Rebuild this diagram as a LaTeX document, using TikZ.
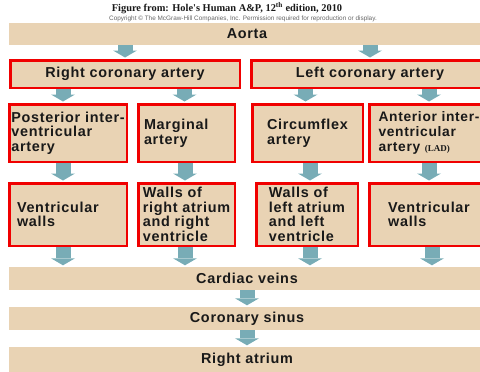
\documentclass[tikz,border=0pt]{standalone}
\usepackage{fontspec}
\setmainfont{Liberation Sans}
\newfontfamily\lblfont{Liberation Sans}[LetterSpace=5]
\newfontfamily\serfont{Liberation Serif}
\usepackage{tikz}
\usetikzlibrary{arrows.meta, positioning}
\definecolor{tanfill}{RGB}{233,211,180}
\definecolor{flowteal}{RGB}{120,172,182}
\definecolor{boxred}{RGB}{240,0,0}

\begin{document}
\begin{tikzpicture}[
	x=1pt, y=-1pt,
	every node/.style={font=\lblfont\bfseries\fontsize{14.4}{14.6}\selectfont, text=black!90},
	bar/.style={rectangle, fill=tanfill, minimum width=476pt, minimum height=23pt, inner sep=0pt},
	artbox/.style={rectangle, draw=boxred, line width=2.5pt, fill=tanfill, align=left, inner sep=2pt},
	flow/.style={draw=flowteal, line width=15pt, -{Triangle[width=24pt, length=7pt, line width=0pt]}, shorten >=1.5pt}
]
\useasboundingbox (0,0) rectangle (480,372);

% Source line
\node[font=\serfont\bfseries\fontsize{10.4}{12}\selectfont] (title) at (227,8) {Figure from: Hole's Human A\&P, 12\textsuperscript{th} edition, 2010};
\node[font=\fontsize{6.4}{7}\selectfont, text=black!60] (copy) at (243,18.5) {Copyright \textcopyright{} The McGraw-Hill Companies, Inc. Permission required for reproduction or display.};

% Bars across the page
\node[bar, minimum height=22pt] (aorta) at (247,34) {Aorta};
\node[bar] (cveins) at (247,278.5) {Cardiac veins};
\node[bar] (csinus) at (247,318.5) {Coronary sinus};
\node[bar, minimum height=25pt] (ratrium) at (247,359.5) {Right atrium};

% Coronary arteries
\node[artbox, minimum width=229.5pt, minimum height=27.5pt] (rca) at (125,74) {Right coronary artery};
\node[artbox, minimum width=237.5pt, minimum height=27.5pt, right=9pt of rca] (lca) {Left coronary artery};

% Branches
\node[artbox, minimum width=117.5pt, minimum height=57.5pt] (pia) at (68,133) {Posterior inter-\\ventricular\\artery};
\node[artbox, minimum width=96.5pt, minimum height=57.5pt, text width=85pt, right=9pt of pia] (marg) {Marginal\\artery};
\node[artbox, minimum width=110.5pt, minimum height=57.5pt, right=15pt of marg] (circ) {Circumflex\\artery};
\node[artbox, minimum width=119.5pt, minimum height=57.5pt, right=4pt of circ, font=\lblfont\bfseries\fontsize{13.8}{14.6}\selectfont] (aia) {Anterior inter-\\ventricular\\artery {\serfont\bfseries\fontsize{9}{10}\selectfont(LAD)}};

% Supplied walls
\node[artbox, minimum width=117.5pt, minimum height=62.5pt, text width=102pt] (vwr) at (68,214.5) {Ventricular\\walls};
\node[artbox, minimum width=96.5pt, minimum height=62.5pt, right=9pt of vwr] (wra) {Walls of\\right atrium\\and right\\ventricle};
\node[artbox, minimum width=101.5pt, minimum height=62.5pt, right=19pt of wra] (wla) {Walls of\\left atrium\\and left\\ventricle};
\node[artbox, minimum width=119.5pt, minimum height=62.5pt, right=9pt of wla] (vwl) {Ventricular\\walls};

% Arrows
\draw[flow] (aorta.south -| rca) -- (rca.north);
\draw[flow] (aorta.south -| lca) -- (lca.north);

\draw[flow] ([xshift=-5pt]rca.south -| pia.north) -- ([xshift=-5pt]pia.north);
\draw[flow] ([xshift=-2pt]rca.south -| marg.north) -- ([xshift=-2pt]marg.north);
\draw[flow] ([xshift=-2pt]lca.south -| circ.north) -- ([xshift=-2pt]circ.north);
\draw[flow] (lca.south -| aia.north) -- (aia.north);

\draw[flow] ([xshift=-5pt]pia.south) -- ([xshift=-5pt]vwr.north);
\draw[flow] ([xshift=-1.5pt]marg.south) -- ([xshift=-1.5pt]wra.north);
\draw[flow] ([xshift=2.5pt]circ.south) -- ([xshift=2.5pt]circ.south |- wla.north);
\draw[flow] (aia.south) -- (vwl.north);

\draw[flow] ([xshift=-5pt]vwr.south) -- ([xshift=-5pt]vwr.south |- cveins.north);
\draw[flow] ([xshift=-1.5pt]wra.south) -- ([xshift=-1.5pt]wra.south |- cveins.north);
\draw[flow] ([xshift=3pt]wla.south) -- ([xshift=3pt]wla.south |- cveins.north);
\draw[flow] ([xshift=3pt]vwl.south) -- ([xshift=3pt]vwl.south |- cveins.north);

\draw[flow] (cveins.south) -- (csinus.north);
\draw[flow] (csinus.south) -- (ratrium.north);

\end{tikzpicture}
\end{document}
